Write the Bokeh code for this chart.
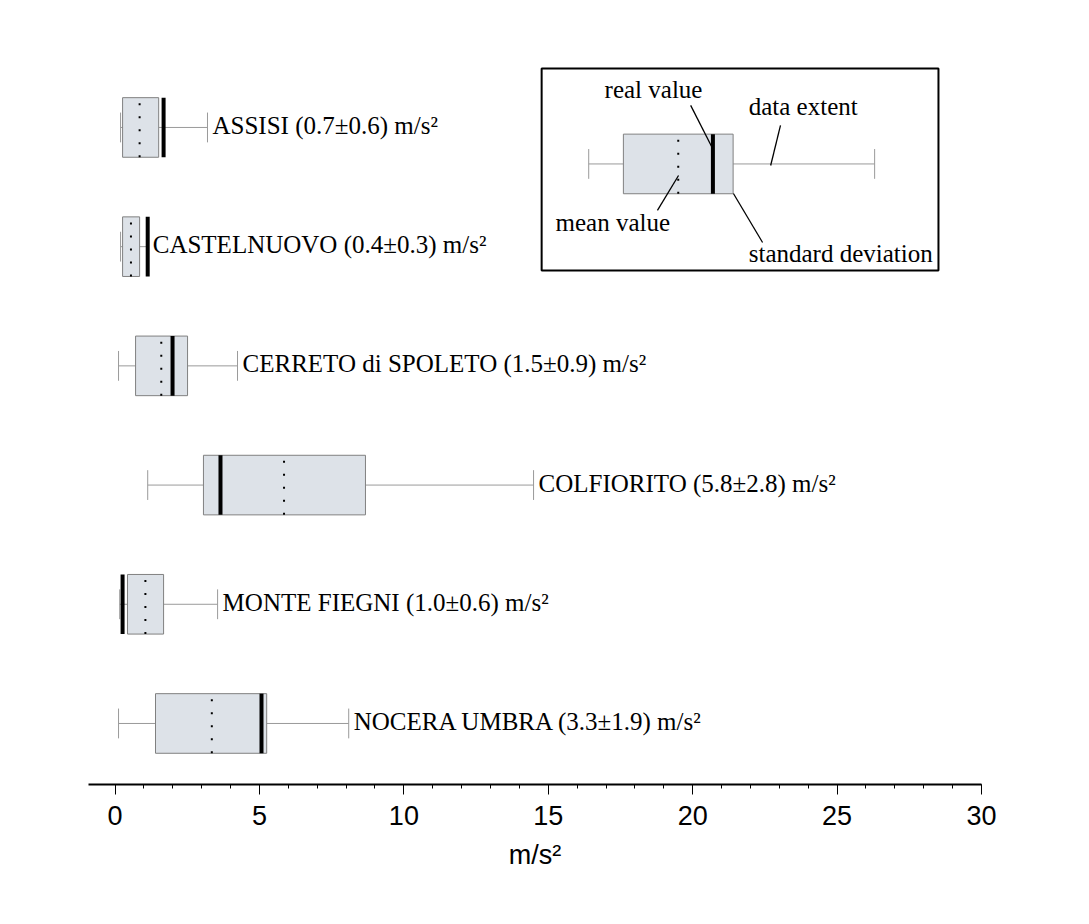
from bokeh.plotting import figure
from bokeh.models import ColumnDataSource, Range1d, FixedTicker
from bokeh.core.properties import value
from bokeh.embed import file_html
from bokeh.resources import INLINE

# ---------------- data ----------------
sites = ["ASSISI", "CASTELNUOVO", "CERRETO di SPOLETO ", "COLFIORITO",
         "MONTE FIEGNI", "NOCERA UMBRA"]
label_mean = ["0.7", "0.4", "1.5", "5.8", "1.0", "3.3"]
label_sd = ["0.6", "0.3", "0.9", "2.8", "0.6", "1.9"]
mean_val = [0.85, 0.55, 1.6, 5.85, 1.05, 3.35]
sd_lo = [0.26, 0.26, 0.71, 3.06, 0.43, 1.40]
sd_hi = [1.51, 0.85, 2.51, 8.67, 1.68, 5.25]
real_val = [1.68, 1.13, 1.99, 3.65, 0.26, 5.07]
data_min = [0.19, 0.19, 0.12, 1.13, 0.16, 0.12]
data_max = [3.20, 1.13, 4.24, 14.49, 3.55, 8.09]
x_ticks = [0, 5, 10, 15, 20, 25, 30]
x_minor = list(range(0, 31))

# key (legend) example values
key_mean = [19.5]
key_lo = [17.6]
key_hi = [21.4]
key_real = [20.7]
key_min = [16.4]
key_max = [26.3]

# ---------------- styles ----------------
BOX_H = 0.5
CAP_H = 0.25
SERIF = value("Liberation Serif")
SANS = "Liberation Sans"
FILL = "#dde2e8"
EDGE = "#808080"
WHISK = "#9a9a9a"
FS = "25px"

n = len(sites)
rows = [n - i for i in range(n)]
labels = [f"{s} ({m}\u00b1{d}) m/s\u00b2" for s, m, d in zip(sites, label_mean, label_sd)]

src = ColumnDataSource(dict(
    y=rows, mean=mean_val, lo=sd_lo, hi=sd_hi, real=real_val,
    dmin=data_min, dmax=data_max, label=labels,
    ytop=[r + BOX_H / 2 for r in rows], ybot=[r - BOX_H / 2 for r in rows],
    ctop=[r + CAP_H / 2 for r in rows], cbot=[r - CAP_H / 2 for r in rows],
))

p = figure(width=1081, height=916, output_backend="svg", toolbar_location=None,
           x_range=Range1d(-0.92, 30.0), y_range=Range1d(0.488, 6.998),
           y_axis_location=None, min_border_left=88, min_border_right=100,
           min_border_top=8, min_border_bottom=132)
p.outline_line_color = None
p.grid.visible = False
p.background_fill_color = "white"
p.border_fill_color = "white"


def draw_boxes(p, s):
    # whiskers
    p.segment(x0="dmin", y0="y", x1="lo", y1="y", source=s, line_color=WHISK, line_width=1)
    p.segment(x0="hi", y0="y", x1="dmax", y1="y", source=s, line_color=WHISK, line_width=1)
    p.segment(x0="dmin", y0="cbot", x1="dmin", y1="ctop", source=s, line_color=WHISK, line_width=1)
    p.segment(x0="dmax", y0="cbot", x1="dmax", y1="ctop", source=s, line_color=WHISK, line_width=1)
    # sd box
    p.quad(left="lo", right="hi", bottom="ybot", top="ytop", source=s,
           fill_color=FILL, line_color=EDGE, line_width=1)
    # mean (dotted)
    p.segment(x0="mean", y0="ybot", x1="mean", y1="ytop", source=s,
              line_color="black", line_width=2, line_dash="2 11")
    # real value (thick)
    p.segment(x0="real", y0="ybot", x1="real", y1="ytop", source=s,
              line_color="black", line_width=4)


draw_boxes(p, src)

p.text(x="dmax", y="y", text="label", source=src, x_offset=5, y_offset=-2,
       text_baseline="alphabetic", text_align="left", text_font=SERIF,
       text_font_size=FS, text_color="black")

# ---------------- key ----------------
KY = 5.694
ksrc = ColumnDataSource(dict(
    y=[KY], mean=key_mean, lo=key_lo, hi=key_hi, real=key_real,
    dmin=key_min, dmax=key_max,
    ytop=[KY + BOX_H / 2], ybot=[KY - BOX_H / 2],
    ctop=[KY + CAP_H / 2], cbot=[KY - CAP_H / 2],
))
p.quad(left=[14.77], right=[28.51], bottom=[4.80], top=[6.495],
       fill_color=None, line_color="black", line_width=2)
draw_boxes(p, ksrc)

p.segment(x0=[19.93, 23.04, 18.78, 21.41], y0=[6.185, 6.017, 5.304, 5.446],
          x1=[20.69, 22.70, 19.51, 22.42], y1=[5.824, 5.681, 5.597, 5.035],
          line_color="black", line_width=1.3)
p.text(x=[16.95, 21.94, 15.25, 21.94], y=[6.227, 6.084, 5.111, 4.851],
       text=["real value", "data extent", "mean value", "standard deviation"],
       y_offset=-11,
       text_baseline="alphabetic", text_align="left", text_font=SERIF,
       text_font_size=FS, text_color="black")

# ---------------- axis ----------------
ax = p.xaxis[0]
ax.ticker = FixedTicker(ticks=x_ticks, minor_ticks=x_minor)
ax.axis_line_width = 2
ax.axis_line_color = "black"
ax.major_tick_line_color = "black"
ax.major_tick_line_width = 1
ax.major_tick_out = 10
ax.major_tick_in = 0
ax.minor_tick_line_color = "black"
ax.minor_tick_out = 4
ax.minor_tick_in = 0
ax.major_label_text_font = SANS
ax.major_label_text_font_size = "27px"
ax.major_label_text_color = "black"
ax.major_label_standoff = 11
ax.axis_label = "m/s\u00b2"
ax.axis_label_text_font = SANS
ax.axis_label_text_font_size = "27px"
ax.axis_label_text_font_style = "normal"
ax.axis_label_text_color = "black"
ax.axis_label_standoff = 12

open("out.html", "w").write(file_html(p, INLINE))
